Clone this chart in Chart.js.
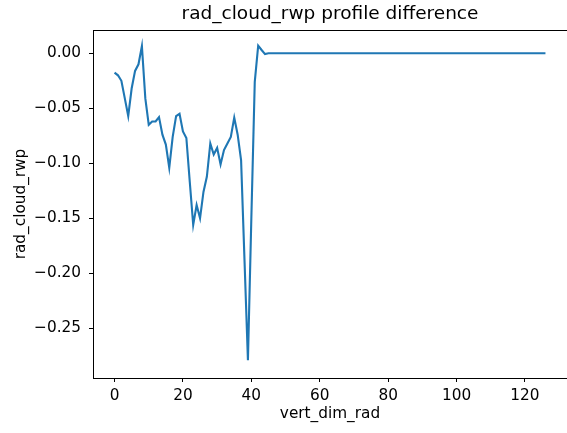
<!DOCTYPE html>
<html>
<head>
<meta charset="utf-8">
<script src="https://cdn.jsdelivr.net/npm/chart.js@4/dist/chart.umd.min.js"></script>
<style>
  html, body { margin: 0; padding: 0; background: #fff; }
  #wrap { width: 567px; height: 433px; position: relative; }
</style>
</head>
<body>
<div id="wrap"><canvas id="c" width="567" height="433"></canvas></div>
<script>
const chartTitle = "rad_cloud_rwp profile difference";
const xAxisLabel = "vert_dim_rad";
const yAxisLabel = "rad_cloud_rwp";

// profile difference values for vert_dim_rad = 0 .. 126
const rwpDiff = [
  -0.0175, -0.020, -0.025, -0.041, -0.057, -0.032, -0.016, -0.010, 0.0065, -0.041,
  -0.065, -0.062, -0.062, -0.058, -0.074, -0.083, -0.104, -0.076, -0.057, -0.055,
  -0.071, -0.077, -0.117, -0.156, -0.138, -0.150, -0.126, -0.112, -0.082, -0.092,
  -0.086, -0.101, -0.088, -0.082, -0.076, -0.0585, -0.074, -0.097, -0.188, -0.279,
  -0.150, -0.026, 0.007, 0.003, -0.0007, 0, 0, 0, 0, 0,
  0, 0, 0, 0, 0, 0, 0, 0, 0, 0,
  0, 0, 0, 0, 0, 0, 0, 0, 0, 0,
  0, 0, 0, 0, 0, 0, 0, 0, 0, 0,
  0, 0, 0, 0, 0, 0, 0, 0, 0, 0,
  0, 0, 0, 0, 0, 0, 0, 0, 0, 0,
  0, 0, 0, 0, 0, 0, 0, 0, 0, 0,
  0, 0, 0, 0, 0, 0, 0, 0, 0, 0,
  0, 0, 0, 0, 0, 0, 0
];

const xTicks = [0, 20, 40, 60, 80, 100, 120];
const yTicks = [-0.25, -0.20, -0.15, -0.10, -0.05, 0.00];
const yTickLabels = ["\u22120.25", "\u22120.20", "\u22120.15", "\u22120.10", "\u22120.05", "0.00"];

const FONT = "'DejaVu Sans', sans-serif";

// top spine + title centred over the axes (matplotlib style)
const framePlugin = {
  id: 'frame',
  afterDatasetsDraw(chart) {
    const {ctx, chartArea: a} = chart;
    ctx.save();
    ctx.strokeStyle = '#000';
    ctx.lineWidth = 1;
    ctx.beginPath();
    ctx.moveTo(a.left, Math.round(a.top) + 0.5);
    ctx.lineTo(chart.width, Math.round(a.top) + 0.5);
    ctx.stroke();
    ctx.fillStyle = '#000';
    ctx.font = "18.5px " + FONT;
    ctx.textAlign = 'center';
    ctx.textBaseline = 'middle';
    ctx.fillText(chartTitle, (a.left + a.right) / 2, 14);
    ctx.restore();
  }
};

new Chart(document.getElementById('c'), {
  type: 'line',
  data: {
    datasets: [{
      data: rwpDiff.map((v, i) => ({x: i, y: v})),
      borderColor: '#1f77b4',
      borderWidth: 2.1,
      pointRadius: 0,
      tension: 0,
      fill: false
    }]
  },
  options: {
    responsive: false,
    animation: false,
    devicePixelRatio: 1,
    layout: { padding: { top: 30, left: 0, right: 0, bottom: 0 } },
    plugins: {
      legend: { display: false },
      tooltip: { enabled: false },
      title: { display: false }
    },
    scales: {
      x: {
        type: 'linear',
        min: -6.3,
        max: 132.3,
        afterBuildTicks(s) { s.ticks = xTicks.map(v => ({value: v})); },
        afterFit(s) { s.height = 55; },
        border: { display: true, color: '#000', width: 1 },
        grid: { display: true, drawOnChartArea: false, drawTicks: true, tickLength: 4, tickColor: '#000', tickWidth: 1 },
        ticks: {
          color: '#000',
          padding: 4.5,
          maxRotation: 0,
          font: { family: FONT, size: 15.3 },
          callback: (v) => String(v)
        },
        title: {
          display: true,
          text: xAxisLabel,
          color: '#000',
          font: { family: FONT, size: 15.3, lineHeight: 1.2 },
          padding: { top: 0, bottom: 9.5 }
        }
      },
      y: {
        type: 'linear',
        min: -0.2952,
        max: 0.0212,
        afterBuildTicks(s) { s.ticks = yTicks.map(v => ({value: v})); },
        afterFit(s) { s.width = 93; },
        border: { display: true, color: '#000', width: 1 },
        grid: { display: true, drawOnChartArea: false, drawTicks: true, tickLength: 4, tickColor: '#000', tickWidth: 1 },
        ticks: {
          color: '#000',
          padding: 8,
          font: { family: FONT, size: 15.3 },
          callback: (v) => {
            const idx = yTicks.findIndex(t => Math.abs(t - v) < 1e-9);
            return idx >= 0 ? yTickLabels[idx] : '';
          }
        },
        title: {
          display: true,
          text: yAxisLabel,
          color: '#000',
          font: { family: FONT, size: 15.3, lineHeight: 1.2 },
          padding: { top: 12.3, bottom: 0 }
        }
      }
    }
  },
  plugins: [framePlugin]
});
</script>
</body>
</html>
